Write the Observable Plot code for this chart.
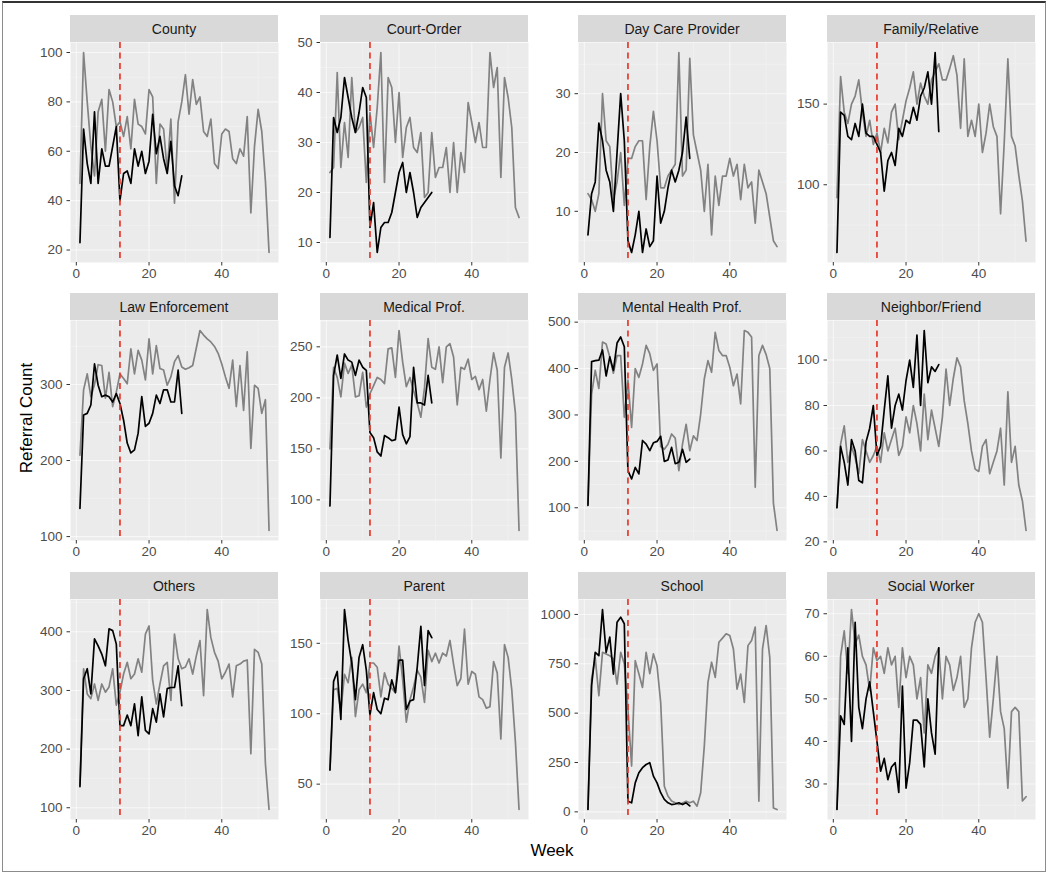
<!DOCTYPE html>
<html>
<head>
<meta charset="utf-8">
<script src="https://cdn.jsdelivr.net/npm/d3@7"></script>
<script src="https://cdn.jsdelivr.net/npm/@observablehq/plot@0.6"></script>
<style>
  body { margin: 0; background: #fff; font-family: "Liberation Sans", Arial, sans-serif; }
  #wrap { position: relative; width: 1050px; height: 876px; overflow: hidden; background: #fff; }
  .strip { position: absolute; background: #d9d9d9; color: #1a1a1a; font-size: 14px;
           display: flex; align-items: center; justify-content: center; }
  .title { position: absolute; color: #000; font-size: 17px; white-space: nowrap; }
  #border { position: absolute; left: 2px; top: 1px; width: 1044px; height: 871px;
            border: 1px solid #8c8c8c; border-top: 2px solid #333; box-sizing: border-box; }
</style>
</head>
<body>
<div id="wrap"><div id="border"></div></div>
<script>
// ---------------- data ----------------
const categories = ["County", "Court-Order", "Day Care Provider", "Family/Relative",
  "Law Enforcement", "Medical Prof.", "Mental Health Prof.", "Neighbor/Friend",
  "Others", "Parent", "School", "Social Worker"];

const weeks = [1,2,3,4,5,6,7,8,9,10,11,12,13,14,15,16,17,18,19,20,21,22,23,24,25,26,27,
  28,29,30,31,32,33,34,35,36,37,38,39,40,41,42,43,44,45,46,47,48,49,50,51,52,53];

const xTicks = [0, 20, 40];
const xMinor = [10, 30, 50];
const lockdownWeek = [12];

// 2019 (grey, weeks 1-53) and 2020 (black, weeks 1-29)
const county2019 = [47,100,80,62,50,76,81,60,85,80,70,72,66,74,61,81,71,70,67,85,82,47,71,69,52,73,39,72,80,91,75,89,79,82,68,66,73,55,53,67,69,68,57,55,61,58,74,35,62,77,68,48,19];
const county2020 = [23,69,55,47,76,47,61,54,54,62,70,40,51,52,47,61,54,60,51,56,75,59,66,57,51,64,46,42,50];

const court2019 = [24,25,44,25,34,27,43,32,33,35,22,36,29,37,48,22,43,41,30,40,27,33,35,29,28,32,19,20,32,23,25,25,29,20,30,20,28,24,38,34,30,34,29,29,48,41,45,23,43,39,33,17,15];
const court2020 = [11,35,32,35,43,39,35,32,36,41,39,13,18,8,13,14,14,16,20,24,26,20,24,20,15,17,18,19,20];

const daycare2019 = [13,12,10,13,30,22,21,12,15,20,11,19,19,21,22,22,12,21,27,22,14,14,16,17,18,37,16,17,36,23,20,17,10,18,6,16,11,16,16,19,16,18,12,18,14,15,8,17,15,13,9,5,4];
const daycare2020 = [6,13,15,25,22,17,15,10,20,30,22,5,3,6,10,3,7,4,5,16,8,10,14,17,15,17,20,26,19];

const family2019 = [92,167,145,138,150,155,165,145,130,140,125,132,120,135,126,145,150,128,140,152,160,170,150,163,155,150,165,170,175,165,165,172,180,168,135,178,130,140,130,150,120,132,150,136,130,82,126,178,130,124,106,90,65];
const family2020 = [58,145,143,130,128,138,130,150,132,130,130,125,120,96,115,120,112,135,130,140,138,148,140,155,160,170,150,182,133];

const law2019 = [207,293,314,284,300,326,325,282,316,271,290,314,308,301,347,314,345,332,306,360,314,351,321,319,299,310,330,338,323,320,322,325,348,371,365,360,356,350,341,327,310,295,332,271,325,266,343,216,299,295,262,280,108];
const law2020 = [137,260,262,273,327,299,284,286,284,277,288,275,253,223,210,214,236,284,245,249,262,286,275,293,293,277,277,319,262];

const medical2019 = [150,230,220,201,234,224,232,201,202,225,191,204,212,220,218,214,248,249,220,266,235,211,220,207,195,181,210,258,230,228,250,215,250,253,240,193,230,228,238,218,221,208,218,187,218,244,227,141,230,244,218,185,70];
const medical2020 = [94,222,242,219,243,237,235,222,237,230,227,166,161,147,143,163,161,158,159,191,164,155,162,230,195,195,193,222,195];

const mental2019 = [108,345,396,357,457,453,425,390,428,428,295,375,273,400,381,410,450,432,396,410,232,226,237,259,250,180,237,280,223,255,245,302,378,417,392,478,439,428,428,403,363,388,324,482,478,468,144,428,450,430,400,110,51];
const mental2020 = [105,415,417,418,440,384,425,396,455,468,447,180,162,187,173,245,237,223,240,243,254,200,203,230,195,198,226,198,205];

const neighbor2019 = [35,63,71,55,62,57,50,65,60,55,58,62,55,68,60,65,70,58,62,75,68,80,72,60,85,65,78,70,62,75,96,80,92,101,97,82,72,60,52,51,62,65,50,55,60,70,45,86,55,62,45,38,25];
const neighbor2020 = [35,62,55,45,65,60,47,46,64,70,80,58,62,78,93,70,80,85,78,91,100,88,111,80,113,90,97,95,98];

const others2019 = [139,337,294,286,311,283,311,297,306,337,275,297,328,348,320,328,354,331,396,410,317,277,311,342,348,283,396,354,337,340,354,328,359,385,291,438,390,365,350,320,331,345,289,342,345,350,352,192,370,365,345,175,97];
const others2020 = [136,320,337,294,388,376,362,342,405,402,379,240,240,258,240,277,223,289,232,226,269,246,294,255,303,305,305,342,274];

const parent2019 = [60,117,118,102,128,122,140,98,117,121,115,136,136,133,112,129,121,118,115,148,124,94,110,119,131,126,108,145,137,143,136,143,141,152,135,120,125,160,121,130,128,112,110,104,105,137,129,82,149,140,117,80,32];
const parent2020 = [60,123,130,96,174,152,136,110,140,149,131,99,115,103,100,111,110,124,115,138,138,103,109,110,133,162,120,159,154];

const school2019 = [12,673,780,588,808,800,791,775,647,808,750,520,232,766,700,630,808,700,800,740,555,130,80,55,46,37,45,54,46,54,29,97,334,656,758,681,859,880,902,893,825,622,698,554,842,868,936,54,825,944,783,20,12];
const school2020 = [12,640,808,791,1025,808,885,698,961,986,953,54,46,147,198,224,240,249,181,147,97,63,46,37,40,46,37,46,30];

const social2019 = [24,60,66,56,71,63,65,60,58,52,62,59,60,56,62,58,60,48,62,55,60,58,50,55,42,58,56,60,62,50,60,58,52,55,60,48,50,62,68,70,68,55,41,50,60,47,43,29,47,48,47,26,27];
const social2020 = [24,46,44,62,40,68,48,43,50,54,47,40,33,36,31,34,35,28,53,29,35,45,45,44,34,50,42,37,62];

// y-axis tick labels per panel
const countyTicks = [20,40,60,80,100];
const courtTicks = [10,20,30,40,50];
const daycareTicks = [10,20,30];
const familyTicks = [100,150];
const lawTicks = [100,200,300];
const medicalTicks = [100,150,200,250];
const mentalTicks = [100,200,300,400,500];
const neighborTicks = [20,40,60,80,100];
const othersTicks = [100,200,300,400];
const parentTicks = [50,100,150];
const schoolTicks = [0,250,500,750,1000];
const socialTicks = [30,40,50,60,70];

const series2019 = [county2019, court2019, daycare2019, family2019, law2019, medical2019,
  mental2019, neighbor2019, others2019, parent2019, school2019, social2019];
const series2020 = [county2020, court2020, daycare2020, family2020, law2020, medical2020,
  mental2020, neighbor2020, others2020, parent2020, school2020, social2020];
const tickSets = [countyTicks, courtTicks, daycareTicks, familyTicks, lawTicks, medicalTicks,
  mentalTicks, neighborTicks, othersTicks, parentTicks, schoolTicks, socialTicks];

// ---------------- layout ----------------
const colLeft = [70, 320, 578, 827];
const rowTop = [42, 320, 599];
const PW = 208, PH = 220, STRIP = 27, ML = 56, MB = 26;
const wrap = document.getElementById("wrap");
const xr = d3.extent(weeks), xpad = (xr[1] - xr[0]) * 0.05;
const xDomain = [xr[0] - xpad, xr[1] + xpad];

categories.forEach((name, i) => {
  const L = colLeft[i % 4], T = rowTop[Math.floor(i / 4)];
  const y19 = series2019[i], y20 = series2020[i], ticks = tickSets[i];
  const all = y19.concat(y20);
  const lo = d3.min(all), hi = d3.max(all), pad = (hi - lo) * 0.05;
  const yDomain = [lo - pad, hi + pad];
  const step = ticks[1] - ticks[0];
  const minor = [];
  for (let v = ticks[0] - step / 2; v <= yDomain[1]; v += step) if (v >= yDomain[0]) minor.push(v);

  const d19 = y19.map((v, k) => ({week: weeks[k], value: v}));
  const d20 = y20.map((v, k) => ({week: weeks[k], value: v}));

  const chart = Plot.plot({
    width: PW + ML, height: PH + MB,
    marginLeft: ML, marginRight: 0, marginTop: 0, marginBottom: MB,
    style: {background: "transparent", fontFamily: "Liberation Sans, Arial, sans-serif",
            fontSize: "13.5px", color: "#4d4d4d", overflow: "visible"},
    x: {domain: xDomain},
    y: {domain: yDomain},
    marks: [
      Plot.frame({fill: "#ebebeb", stroke: "none"}),
      Plot.ruleY(minor, {stroke: "#fff", strokeWidth: 0.6, strokeOpacity: 0.45}),
      Plot.ruleX(xMinor, {stroke: "#fff", strokeWidth: 0.6, strokeOpacity: 0.45}),
      Plot.ruleY(ticks, {stroke: "#fff", strokeWidth: 1.1, strokeOpacity: 0.6}),
      Plot.ruleX(xTicks, {stroke: "#fff", strokeWidth: 1.1, strokeOpacity: 0.6}),
      Plot.line(d19, {x: "week", y: "value", stroke: "#828282", strokeWidth: 1.7}),
      Plot.line(d20, {x: "week", y: "value", stroke: "#000", strokeWidth: 1.7}),
      Plot.ruleX(lockdownWeek, {stroke: "#e8392b", strokeWidth: 1.7, strokeDasharray: "6,4.5"}),
      Plot.axisX({ticks: xTicks, tickSize: 3.5, tickPadding: 2, label: null, stroke: "#333", fill: "#4d4d4d"}),
      Plot.axisY({ticks: ticks, tickSize: 3.5, tickPadding: 4.5, label: null, tickFormat: d => String(d), stroke: "#333", fill: "#4d4d4d"})
    ]
  });
  chart.style.position = "absolute";
  chart.style.left = (L - ML) + "px";
  chart.style.top = T + "px";
  wrap.appendChild(chart);

  const strip = document.createElement("div");
  strip.className = "strip";
  strip.style.left = L + "px";
  strip.style.top = (T - STRIP) + "px";
  strip.style.width = PW + "px";
  strip.style.height = STRIP + "px";
  strip.textContent = name;
  wrap.appendChild(strip);
});

const yt = document.createElement("div");
yt.className = "title";
yt.textContent = "Referral Count";
yt.style.left = "27px"; yt.style.top = "418px";
yt.style.transform = "translate(-50%, -50%) rotate(-90deg)";
wrap.appendChild(yt);

const xt = document.createElement("div");
xt.className = "title";
xt.textContent = "Week";
xt.style.left = "552px"; xt.style.top = "851px";
xt.style.transform = "translate(-50%, -50%)";
wrap.appendChild(xt);
</script>
</body>
</html>
